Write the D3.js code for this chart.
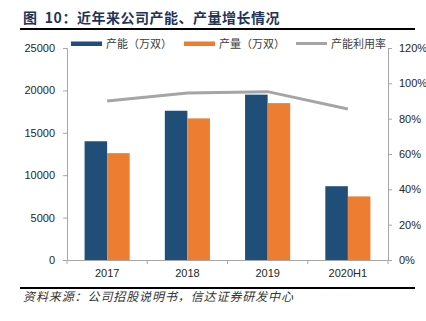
<!DOCTYPE html>
<html>
<head>
<meta charset="utf-8">
<script src="https://cdn.jsdelivr.net/npm/d3@7"></script>
<style>
  body { margin: 0; background: #fff; }
  svg { display: block; }
  text { font-family: "Liberation Sans", "Noto Sans CJK SC", sans-serif; }
  .cjk { font-family: "Noto Sans CJK SC", sans-serif; }
</style>
</head>
<body>
<div id="chart"></div>
<script>
const width = 426;
const height = 321;

const categories = ["2017", "2018", "2019", "2020H1"];
const capacity = [14000, 17600, 19500, 8700];
const output = [12600, 16700, 18500, 7500];
const utilization = [0.90, 0.945, 0.953, 0.855];

const leftTicks = [0, 5000, 10000, 15000, 20000, 25000];
const rightTicks = [0, 0.2, 0.4, 0.6, 0.8, 1.0, 1.2];

const seriesNames = ["产能（万双）", "产量（万双）", "产能利用率"];
const colors = ["#1F4E79", "#ED7D31", "#A5A5A5"];

const plot = { left: 67, right: 388, top: 48, bottom: 260 };

const svg = d3
  .select("#chart")
  .append("svg")
  .attr("width", width)
  .attr("height", height);

// title
svg
  .append("text")
  .attr("class", "cjk")
  .attr("x", 23)
  .attr("y", 23)
  .attr("fill", "#1F3458")
  .style("font-size", "14px")
  .style("font-weight", "bold")
  .style("letter-spacing", "0.5px")
  .attr("xml:space", "preserve")
  .text("图  10：近年来公司产能、产量增长情况");

svg.append("line")
  .attr("x1", 20).attr("x2", 415)
  .attr("y1", 29).attr("y2", 29)
  .attr("stroke", "#000").attr("stroke-width", 2);

svg.append("line")
  .attr("x1", 20).attr("x2", 415)
  .attr("y1", 288).attr("y2", 288)
  .attr("stroke", "#000").attr("stroke-width", 2);

svg
  .append("text")
  .attr("class", "cjk")
  .attr("x", 23)
  .attr("y", 301)
  .attr("fill", "#333")
  .style("font-size", "12px")
  .style("font-style", "italic")
  .style("letter-spacing", "0.9px")
  .text("资料来源：公司招股说明书，信达证券研发中心");

// scales
const x0 = d3.scaleBand()
  .domain(categories)
  .range([plot.left, plot.right])
  .padding(0);

const x1 = d3.scaleBand()
  .domain([0, 1])
  .range([0, x0.bandwidth()])
  .paddingInner(0)
  .paddingOuter(0.78);

const y = d3.scaleLinear().domain([0, 25000]).range([plot.bottom, plot.top]);
const y2 = d3.scaleLinear().domain([0, 1.2]).range([plot.bottom, plot.top]);

// axes
function styleAxis(g) {
  g.select(".domain").attr("stroke", "#A6A6A6");
  g.selectAll(".tick line").attr("stroke", "#A6A6A6");
  g.selectAll(".tick text")
    .attr("fill", "#262626")
    .style("font-size", "11px")
    .style("font-family", "'Liberation Sans', sans-serif");
}

svg.append("g")
  .attr("transform", `translate(${plot.left},0)`)
  .call(d3.axisLeft(y).tickValues(leftTicks).tickSize(4).tickPadding(8).tickFormat(d3.format("d")))
  .call(styleAxis);

svg.append("g")
  .attr("transform", `translate(${plot.right},0)`)
  .call(d3.axisRight(y2).tickValues(rightTicks).tickSize(4).tickPadding(7).tickFormat(d3.format(".0%")))
  .call(styleAxis);

svg.append("g")
  .attr("transform", `translate(0,${plot.bottom})`)
  .call(d3.axisBottom(x0).tickSize(0).tickPadding(9))
  .call(styleAxis);

// category separator ticks on x axis
const bounds = [plot.left].concat(categories.map((c) => x0(c) + x0.bandwidth()));
svg.append("g")
  .selectAll("line")
  .data(bounds)
  .enter()
  .append("line")
  .attr("x1", (d) => d)
  .attr("x2", (d) => d)
  .attr("y1", plot.bottom)
  .attr("y2", plot.bottom + 4)
  .attr("stroke", "#A6A6A6");

// bars
const barData = [capacity, output];
barData.forEach(function (vals, s) {
  svg.append("g")
    .attr("fill", colors[s])
    .selectAll("rect")
    .data(vals)
    .enter()
    .append("rect")
    .attr("x", (d, i) => x0(categories[i]) + x1(s))
    .attr("y", (d) => y(d))
    .attr("width", x1.bandwidth())
    .attr("height", (d) => y(0) - y(d));
});

// utilization line
const line = d3.line()
  .x((d, i) => x0(categories[i]) + x0.bandwidth() / 2)
  .y((d) => y2(d));

svg.append("path")
  .datum(utilization)
  .attr("fill", "none")
  .attr("stroke", colors[2])
  .attr("stroke-width", 3)
  .attr("d", line);

// legend
const legendX = [71, 184, 296];
const legend = svg.append("g");
seriesNames.forEach(function (name, i) {
  if (i < 2) {
    legend.append("rect")
      .attr("x", legendX[i])
      .attr("y", 41.5)
      .attr("width", 31)
      .attr("height", 4.5)
      .attr("fill", colors[i]);
  } else {
    legend.append("line")
      .attr("x1", legendX[i])
      .attr("x2", legendX[i] + 31)
      .attr("y1", 43.5)
      .attr("y2", 43.5)
      .attr("stroke", colors[i])
      .attr("stroke-width", 3);
  }
  legend.append("text")
    .attr("class", "cjk")
    .attr("x", legendX[i] + 35)
    .attr("y", 47.5)
    .attr("fill", "#404040")
    .style("font-size", "11px")
    .text(name);
});
</script>
</body>
</html>
